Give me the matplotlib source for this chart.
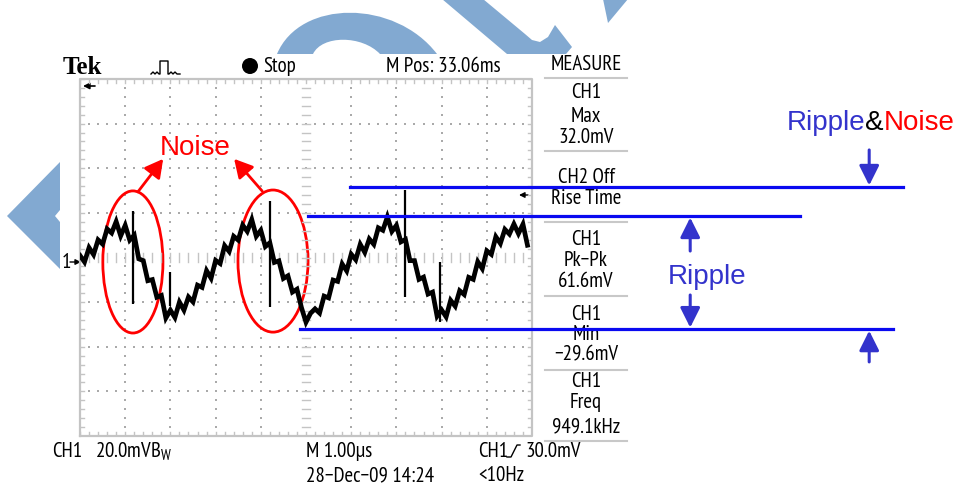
import numpy as np
import matplotlib
matplotlib.use("Agg")
import matplotlib.pyplot as plt
from matplotlib.patches import Ellipse, Polygon, Circle, PathPatch
from matplotlib.path import Path

# ---- data ----
# CH1 trace, mV, one sample every 0.1 us (1 us/div, 20 mV/div)
trace_mv = [2.9, 0.0, 6.4, 3.3, 9.9, 8.0, 14.8, 13.0, 18.1, 11.7,
            16.4, 9.8, 12.0, 1.4, 0.6, -8.4, -7.9, -15.8, -15.0, -25.1,
            -21.6, -24.9, -18.0, -21.6, -15.7, -17.9, -10.4, -11.4, -3.9, -7.3,
            0.7, -0.7, 7.3, 4.7, 11.5, 9.8, 16.5, 13.7, 19.0, 11.5,
            14.2, 6.9, 8.6, -0.2, 0.5, -7.4, -6.2, -13.5, -12.2, -20.5,
            -27.0, -23.0, -21.0, -22.9, -15.3, -16.1, -8.1, -8.7, -0.9, -4.0,
            3.5, 1.0, 7.9, 4.3, 10.3, 7.9, 15.3, 14.2, 20.2, 13.7,
            16.4, 9.0, 10.1, 0.6, 0.6, -7.8, -6.8, -14.4, -13.5, -24.3,
            -21.5, -24.6, -17.2, -19.8, -12.9, -14.6, -6.9, -7.8, 0.1, -3.0,
            5.0, 3.4, 11.3, 8.3, 14.6, 12.5, 17.0, 12.7, 16.9, 7.5]
sample_us = 0.1

# noise spikes: time (us), top (mV), bottom (mV)
spike_t = [1.17, 1.99, 4.20, 7.19, 7.96]
spike_top = [22.9, -4.5, 27.4, 32.3, 0.0]
spike_bot = [-18.8, -19.7, -20.2, -15.7, -26.9]

# annotation levels (mV)
level_rn_top = 33.5     # ripple & noise upper line
level_ripple_top = 20.5
level_floor = -30.0

measure_lines = ["MEASURE",
                 "CH1", "Max", "32.0mV",
                 "CH2 Off", "Rise Time",
                 "CH1", "Pk\u2212Pk", "61.6mV",
                 "CH1", "Min", "\u221229.6mV",
                 "CH1", "Freq", "949.1kHz"]
measure_y = [65, 93, 117, 138, 178, 199, 240, 261, 282, 315, 335, 355, 382, 403, 427]
measure_sep = [79, 152, 223, 297, 371, 442]

W, H = 959, 485
fig = plt.figure(figsize=(W / 100, H / 100), dpi=100)
fig.patch.set_facecolor("white")

NARROW = ["PT Sans Narrow", "Liberation Sans", "DejaVu Sans"]
ARIAL = ["Liberation Sans", "DejaVu Sans"]
FS = 15

# canvas axes in pixel coords
cv = fig.add_axes([0, 0, 1, 1], zorder=0)
cv.set_xlim(0, W)
cv.set_ylim(H, 0)
cv.axis("off")

wm = "#82A9D1"
# watermark pieces
cv.add_patch(Polygon([(7, 217), (60, 163), (60, 270)], closed=True, fc=wm, ec="none"))
cv.add_patch(Polygon([(55, 217), (60, 211), (60, 223)], closed=True, fc="white", ec="none"))
arch = Path([(277, 55), (300, 0), (395, 0), (437, 55), (380, 55), (362, 36), (322, 36), (313, 55), (277, 55)],
            [Path.MOVETO, Path.CURVE4, Path.CURVE4, Path.CURVE4, Path.LINETO,
             Path.CURVE4, Path.CURVE4, Path.CURVE4, Path.CLOSEPOLY])
cv.add_patch(PathPatch(arch, fc=wm, ec="none"))
cv.add_patch(Polygon([(442, 0), (483, 0), (525, 35), (532, 41), (540, 43), (548, 38), (555, 26),
                      (572, 48), (566, 55), (507, 55)], closed=True, fc=wm, ec="none"))
cv.add_patch(Polygon([(603, 0), (628, 0), (608, 24)], closed=True, fc=wm, ec="none"))

# header
cv.text(63, 68, "Tek", family=["Liberation Serif", "DejaVu Serif"], weight="bold",
        fontsize=18, va="center", ha="left")
cv.plot([151, 153, 155, 157, 159, 160, 160, 168, 168, 169, 171, 173, 175, 177, 180],
        [75, 73, 75, 73, 75, 75, 62, 62, 75, 75, 73, 75, 73, 75, 75], color="black", lw=1)
cv.add_patch(Circle((250, 67), 8, fc="black", ec="none"))
cv.text(263, 67, "Stop", family=NARROW, fontsize=FS, va="center", ha="left")
cv.text(386, 67, "M Pos: 33.06ms", family=NARROW, fontsize=FS, va="center", ha="left")

# measure panel
for txt, yy in zip(measure_lines, measure_y):
    cv.text(586, yy, txt, family=NARROW, fontsize=FS, va="center", ha="center")
for yy in measure_sep:
    cv.plot([545, 627], [yy, yy], color="#C8C8C8", lw=1.5)

# footer
cv.text(52, 452, "CH1", family=NARROW, fontsize=FS, va="center", ha="left")
cv.text(95, 452, "20.0mVB$_{\\mathregular{W}}$", family=NARROW, fontsize=FS, va="center", ha="left")
cv.text(306, 452, "M 1.00\u00b5s", family=NARROW, fontsize=FS, va="center", ha="left")
cv.text(478, 452, "CH1", family=NARROW, fontsize=FS, va="center", ha="left")
cv.plot([507, 511, 517, 520], [458, 458, 446, 446], color="black", lw=1)
cv.text(525, 452, "30.0mV", family=NARROW, fontsize=FS, va="center", ha="left")
cv.text(306, 476, "28\u2212Dec\u221209 14:24", family=NARROW, fontsize=FS, va="center", ha="left")
cv.text(478, 476, "<10Hz", family=NARROW, fontsize=FS, va="center", ha="left")

# markers around the graticule
cv.text(62, 263, "1", family=NARROW, fontsize=FS, va="center", ha="left")
cv.annotate("", xy=(81, 263), xytext=(70, 263),
            arrowprops=dict(arrowstyle="-|>", color="black", lw=1, mutation_scale=8, shrinkA=0, shrinkB=0))
cv.annotate("", xy=(83, 87), xytext=(95, 87),
            arrowprops=dict(arrowstyle="-|>", color="black", lw=1.2, mutation_scale=9, shrinkA=0, shrinkB=0))
cv.annotate("", xy=(519, 196), xytext=(528, 196),
            arrowprops=dict(arrowstyle="-|>", color="black", lw=1, mutation_scale=8, shrinkA=0, shrinkB=0))

# ---- scope graticule axes ----
x0, x1, ytop, ybot = 80, 532, 80, 437
sc = fig.add_axes([x0 / W, (H - ybot) / H, (x1 - x0) / W, (ybot - ytop) / H], zorder=1)
sc.patch.set_alpha(0)
sc.set_xlim(0, 10)
sc.set_ylim(-78, 82)
sc.axis("off")

grid_c = "#C4C4C4"
ymid = 2.0
sc.plot([0, 10, 10, 0, 0], [-78, -78, 82, 82, -78], color=grid_c, lw=1.6, clip_on=False)
minor_x = np.arange(0, 10.01, 0.2)
minor_y = np.arange(-78, 82.01, 4)
for gx in range(1, 10):
    if gx == 5:
        continue
    sc.scatter(np.full(len(minor_y), gx), minor_y, s=2.5, marker="s", color="#AAAAAA", lw=0)
for gy in [-58, -38, -18, 22, 42, 62]:
    sc.scatter(minor_x, np.full(len(minor_x), gy), s=2.5, marker="s", color="#AAAAAA", lw=0)
# edge ticks and centre cross ticks
tx = 4 / 45.2
ty = 4 * 20 / 44.6
for mx in minor_x:
    sc.plot([mx, mx], [82, 82 - ty], color=grid_c, lw=1)
    sc.plot([mx, mx], [-78, -78 + ty], color=grid_c, lw=1)
    sc.plot([mx, mx], [ymid - ty, ymid + ty], color=grid_c, lw=1)
for my in minor_y:
    sc.plot([0, tx], [my, my], color=grid_c, lw=1)
    sc.plot([10, 10 - tx], [my, my], color=grid_c, lw=1)
    sc.plot([5 - tx, 5 + tx], [my, my], color=grid_c, lw=1)

# trace
t = np.arange(len(trace_mv)) * sample_us
sc.plot(t, trace_mv, color="black", lw=3.4, solid_joinstyle="miter")
sc.vlines(spike_t, spike_bot, spike_top, color="black", lw=1.6)

# red noise marks
for cx, cy, ew, eh in [(1.17, 0.0, 1.33, 63.7), (4.27, 0.4, 1.55, 63.7)]:
    sc.add_patch(Ellipse((cx, cy), ew, eh, fc="none", ec="red", lw=2, clip_on=False))
sc.text(2.54, 51.5, "Noise", color="red", family=ARIAL, fontsize=20, ha="center", va="center")
red_arrow = dict(arrowstyle="-|>,head_length=0.55,head_width=0.3", color="red", lw=2,
                 mutation_scale=20, shrinkA=0, shrinkB=0)
sc.annotate("", xy=(1.84, 46.2), xytext=(1.28, 31.4), arrowprops=red_arrow, annotation_clip=False)
sc.annotate("", xy=(3.41, 46.2), xytext=(4.03, 31.8), arrowprops=red_arrow, annotation_clip=False)

# blue ripple lines
blue = "#0A0AF0"
sc.plot([5.97, 18.2], [level_rn_top] * 2, color=blue, lw=2.3, clip_on=False)
sc.plot([5.04, 15.93], [level_ripple_top] * 2, color=blue, lw=2.3, clip_on=False)
sc.plot([4.87, 17.99], [level_floor] * 2, color=blue, lw=2.3, clip_on=False)

ab = "#3333CC"
blue_arrow = dict(arrowstyle="-|>,head_length=0.6,head_width=0.3", color=ab, lw=2.2,
                  mutation_scale=20, shrinkA=0, shrinkB=0)
sc.annotate("", xy=(17.46, level_rn_top + 0.8), xytext=(17.46, 50.2), arrowprops=blue_arrow, annotation_clip=False)
sc.annotate("", xy=(13.5, level_ripple_top - 0.6), xytext=(13.5, 4.9), arrowprops=blue_arrow, annotation_clip=False)
sc.annotate("", xy=(13.5, level_floor + 0.6), xytext=(13.5, -14.8), arrowprops=blue_arrow, annotation_clip=False)
sc.annotate("", xy=(17.46, level_floor - 0.8), xytext=(17.46, -44.8), arrowprops=blue_arrow, annotation_clip=False)
sc.text(13.87, -6.3, "Ripple", color=ab, family=ARIAL, fontsize=20, ha="center", va="center")
rn = sc.text(15.63, 62.8, "Ripple", color=ab, family=ARIAL, fontsize=20, ha="left", va="center")
rn2 = sc.annotate("&", xycoords=rn, xy=(1, 0.5), color="black", family=ARIAL, fontsize=20,
                  ha="left", va="center")
sc.annotate("Noise", xycoords=rn2, xy=(1, 0.5), color="red", family=ARIAL, fontsize=20,
            ha="left", va="center")

fig.savefig("out.png", dpi=100, facecolor="white")
